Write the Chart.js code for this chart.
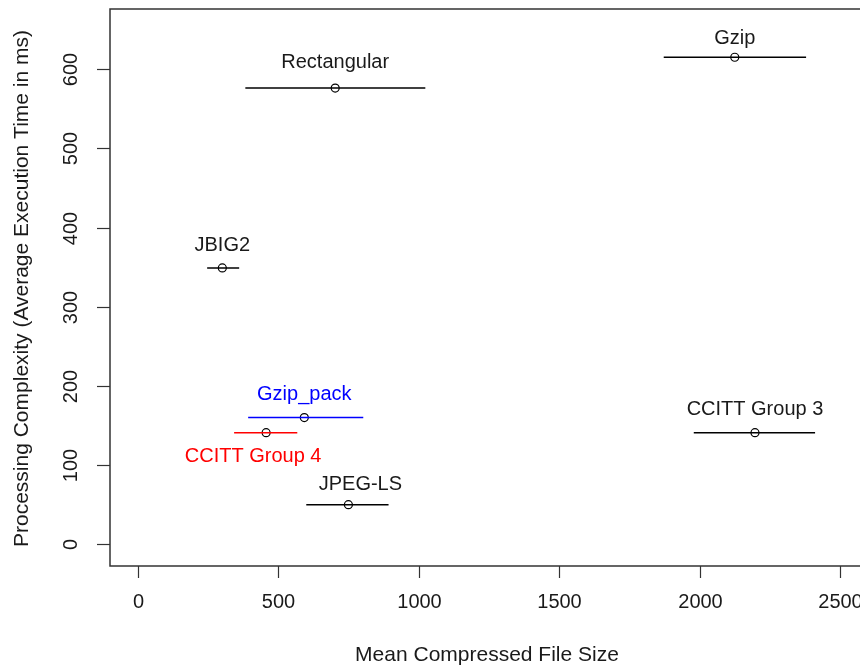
<!DOCTYPE html>
<html>
<head>
<meta charset="utf-8">
<script src="https://cdn.jsdelivr.net/npm/chart.js@4/dist/chart.umd.min.js"></script>
<style>
html,body{margin:0;padding:0;background:#fff;}
#wrap{width:860px;height:667px;}
</style>
</head>
<body>
<div id="wrap"><canvas id="c" width="860" height="667"></canvas></div>
<script>
// ---- data ----
const methods = ["Rectangular", "Gzip", "JBIG2", "Gzip_pack", "CCITT Group 4", "JPEG-LS", "CCITT Group 3"];
const meanSize = [702, 2125, 300, 592, 456, 749, 2197];
const sizeLow  = [382, 1872, 246, 392, 342, 599, 1979];
const sizeHigh = [1023, 2379, 360, 802, 567, 892, 2411];
const execTime = [576, 615, 349, 160, 141, 50, 141];
const xTicks = [0, 500, 1000, 1500, 2000, 2500];
const yTicks = [0, 100, 200, 300, 400, 500, 600];
const xTitle = "Mean Compressed File Size";
const yTitle = "Processing Complexity (Average Execution Time in ms)";

// ---- styles ----
const markColors = ["#000000", "#000000", "#000000", "#0000FF", "#FF0000", "#000000", "#000000"];
const labelOffsets = [[0,-26],[0,-19],[0,-22],[0,-23],[-13,24],[12,-20],[0,-23]];
const FONT = '20px "Liberation Sans", Arial, sans-serif';
const TITLE_FONT = '21px "Liberation Sans", Arial, sans-serif';
const INK = "#1a1a1a";

const datasets = methods.map((m, i) => ({
  type: "line",
  label: m + " range",
  data: [{x: sizeLow[i], y: execTime[i]}, {x: sizeHigh[i], y: execTime[i]}],
  borderColor: markColors[i],
  borderWidth: 1.5,
  pointRadius: 0,
  fill: false,
  tension: 0
}));
datasets.push({
  type: "scatter",
  label: "mean",
  data: methods.map((m, i) => ({x: meanSize[i], y: execTime[i]})),
  pointStyle: "circle",
  pointRadius: 4,
  borderColor: "#000000",
  backgroundColor: "rgba(0,0,0,0)",
  borderWidth: 1.2
});

const rPlot = {
  id: "rPlot",
  afterDraw(chart) {
    const ctx = chart.ctx;
    const a = chart.chartArea;
    const xs = chart.scales.x, ys = chart.scales.y;
    ctx.save();
    // box (left, top, bottom)
    ctx.strokeStyle = "#333";
    ctx.lineWidth = 1.5;
    ctx.beginPath();
    ctx.moveTo(a.right + 4, a.top);
    ctx.lineTo(a.left, a.top);
    ctx.lineTo(a.left, a.bottom);
    ctx.lineTo(a.right + 4, a.bottom);
    ctx.stroke();
    ctx.lineWidth = 1.2;
    ctx.fillStyle = INK;
    ctx.font = FONT;
    // x ticks
    ctx.textAlign = "center";
    ctx.textBaseline = "middle";
    xTicks.forEach(v => {
      const px = Math.round(xs.getPixelForValue(v)) + 0.5;
      ctx.beginPath();
      ctx.moveTo(px, a.bottom);
      ctx.lineTo(px, a.bottom + 12);
      ctx.stroke();
      ctx.fillText(String(v), px, a.bottom + 36);
    });
    // y ticks
    yTicks.forEach(v => {
      const py = Math.round(ys.getPixelForValue(v)) + 0.5;
      ctx.beginPath();
      ctx.moveTo(a.left, py);
      ctx.lineTo(a.left - 13, py);
      ctx.stroke();
      ctx.save();
      ctx.translate(a.left - 39, py);
      ctx.rotate(-Math.PI / 2);
      ctx.fillText(String(v), 0, 0);
      ctx.restore();
    });
    // titles
    ctx.font = TITLE_FONT;
    ctx.fillText(xTitle, 487, a.bottom + 89);
    ctx.save();
    ctx.translate(22, (a.top + a.bottom) / 2 + 1);
    ctx.rotate(-Math.PI / 2);
    ctx.fillText(yTitle, 0, 0);
    ctx.restore();
    // point labels
    ctx.font = FONT;
    methods.forEach((m, i) => {
      const px = xs.getPixelForValue(meanSize[i]) + labelOffsets[i][0];
      const py = ys.getPixelForValue(execTime[i]) + labelOffsets[i][1];
      ctx.fillStyle = markColors[i] === "#000000" ? INK : markColors[i];
      ctx.fillText(m, px, py);
    });
    ctx.restore();
  }
};

new Chart(document.getElementById("c"), {
  data: { datasets },
  options: {
    responsive: false,
    animation: false,
    layout: { autoPadding: false, padding: { left: 110, top: 9, right: 0, bottom: 101 } },
    scales: {
      x: { type: "linear", min: -100, max: 2571, display: false },
      y: { type: "linear", min: -27.4, max: 675.9, display: false }
    },
    plugins: { legend: { display: false }, tooltip: { enabled: false } }
  },
  plugins: [rPlot]
});
</script>
</body>
</html>
